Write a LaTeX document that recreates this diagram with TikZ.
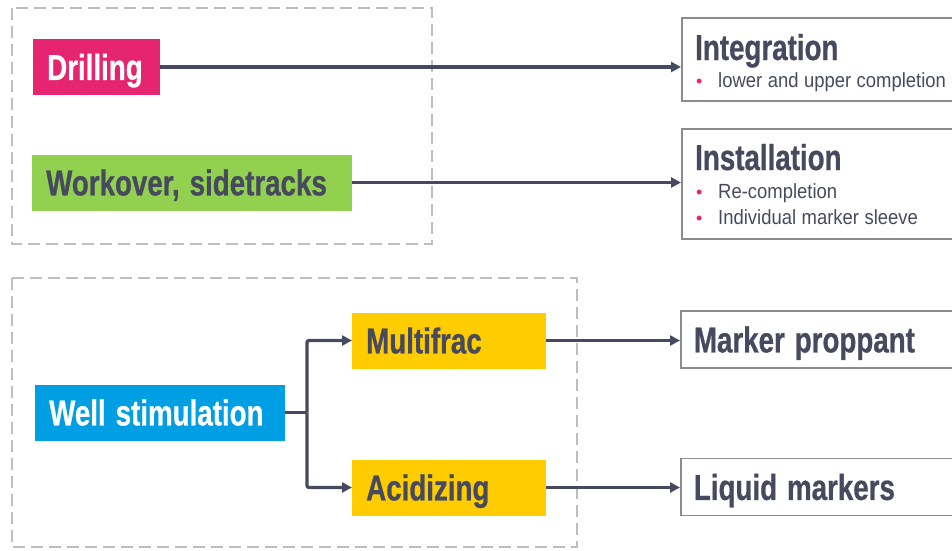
\documentclass[tikz,border=0pt]{standalone}
\usepackage{fontspec}
\setmainfont{Liberation Sans}
\newfontfamily\headfont{Liberation Sans}[FakeStretch=0.77, BoldFeatures={FakeBold=0.7}]
\newfontfamily\itemfont{Liberation Sans}[FakeStretch=0.9]
\usetikzlibrary{arrows.meta}

\definecolor{drillpink}{HTML}{E5256F}
\definecolor{workgreen}{HTML}{92D050}
\definecolor{wellblue}{HTML}{009FE3}
\definecolor{fracyellow}{HTML}{FFCC00}
\definecolor{slate}{HTML}{474A5E}
\definecolor{framegray}{HTML}{8C8C8C}
\definecolor{dashgray}{HTML}{BEBEBE}

\tikzset{
  headtext/.style={font={\headfont\bfseries\fontsize{36}{36}\selectfont},
    execute at begin node={\spaceskip=10pt\relax}},
  stage/.style={headtext, rectangle, anchor=west, inner xsep=14pt, inner ysep=0pt,
    minimum height=56pt, text height=25.8pt, text depth=0pt, align=left},
  outcome/.style={rectangle, draw=framegray, line width=1.8pt, anchor=north west,
    minimum width=320pt, inner sep=0pt},
  outcometext/.style={headtext, rectangle, draw=framegray, line width=1.8pt, anchor=west,
    minimum width=320pt, minimum height=57pt, text width=294pt, inner xsep=13pt,
    inner ysep=0pt, text height=25.8pt, text depth=0pt, align=left, text=slate},
  title/.style={headtext, anchor=base west, inner sep=0pt, text=slate},
  itemtext/.style={font={\itemfont\fontsize{20.5}{20.5}\selectfont},
    execute at begin node={\spaceskip=5.5pt\relax},
    anchor=base west, inner sep=0pt, text=slate},
  itemdot/.style={font={\fontsize{18}{18}\selectfont}, anchor=base west, inner sep=0pt,
    text=drillpink},
  group/.style={draw=dashgray, line width=2.4pt, dash pattern=on 12pt off 6pt},
  link/.style={draw=slate, line width=3.2pt},
  conn/.style={link, -{Triangle[length=10pt,width=10pt]}},
}

\begin{document}
\begin{tikzpicture}[x=1pt, y=-1pt]
  \useasboundingbox (0,0) rectangle (952,550);

  % dashed groupings
  \draw[group] (12,8) rectangle (432,244);
  \draw[group] (12,278) rectangle (577,547);

  % source stages
  \node[stage, fill=drillpink, text=white, text width=99pt]  (drill) at (33,67)    {Drilling};
  \node[stage, fill=workgreen, text=slate, text width=292pt] (work)  at (32,182.5) {Workover, sidetracks};
  \node[stage, fill=wellblue, text=white, text width=222pt]  (well)  at (35,412.5) {Well stimulation};
  \node[stage, fill=fracyellow, text=slate, text width=166pt] (multi) at (352,340.5) {Multifrac};
  \node[stage, fill=fracyellow, text=slate, text width=166pt] (acid)  at (352,487.5) {Acidizing};

  % outcome boxes
  \node[outcome, minimum height=83pt]  (integ)  at (681,17)  {};
  \node[outcome, minimum height=110pt] (instal) at (681,128) {};
  \node[outcometext] (prop) at (680,339.5) {Marker proppant};
  \node[outcometext] (liq)  at (680,487)   {Liquid markers};

  \node[title] (integT) at (695,60) {Integration};
  \node[itemdot]  (integD1) at (696,87) {•};
  \node[itemtext] (integI1) at (718,87) {lower and upper completion};

  \node[title] (instT) at (695,170) {Installation};
  \node[itemdot]  (instD1) at (696,198) {•};
  \node[itemtext] (instI1) at (718,198) {Re-completion};
  \node[itemdot]  (instD2) at (696,224) {•};
  \node[itemtext] (instI2) at (718,224) {Individual marker sleeve};

  % connectors
  \coordinate (split) at (307,412.5);
  \draw[conn] (drill.east) -- (drill.east -| integ.west);
  \draw[conn] (work.east) -- (work.east -| instal.west);
  \draw[link] (well.east) -- (split);
  \draw[conn, rounded corners=2pt] (split) |- (multi.west);
  \draw[conn, rounded corners=2pt] (split) |- (acid.west);
  \draw[conn] (multi.east) -- (multi.east -| prop.west);
  \draw[conn] (acid.east) -- (acid.east -| liq.west);
\end{tikzpicture}
\end{document}
